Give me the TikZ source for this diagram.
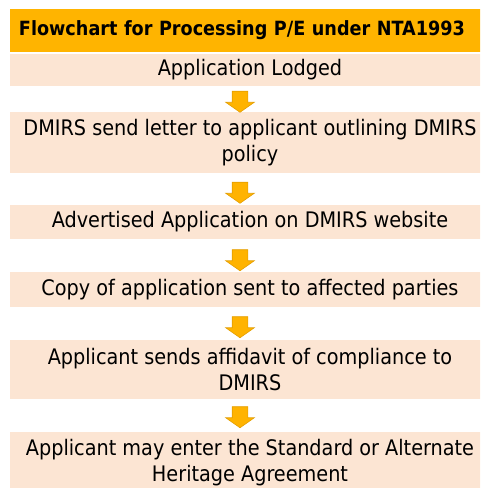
\documentclass[tikz,border=0pt]{standalone}
\usepackage{fontspec}
\setmainfont{DejaVu Sans Condensed}
\usetikzlibrary{shapes.arrows,calc}
\definecolor{headblock}{RGB}{255,180,0}
\definecolor{stepblock}{RGB}{252,229,211}
\definecolor{arrowfill}{RGB}{255,179,0}
\definecolor{arrowline}{RGB}{228,158,0}
\tikzset{
	headbox/.style={fill=headblock, minimum width=480pt, minimum height=43pt, inner xsep=9pt, inner ysep=0pt, text width=462pt, align=left, font=\bfseries\fontsize{19.6}{22}\selectfont},
	stepbox/.style={fill=stepblock, minimum width=480pt, inner sep=0pt, align=center, font=\fontsize{21.4}{26.5}\selectfont},
	downarrow/.style={single arrow, shape border rotate=270, fill=arrowfill, draw=arrowline, line width=0.6pt, inner sep=7.5pt, single arrow head extend=6.5pt, single arrow tip angle=110, minimum height=21pt}
}

\begin{document}
\begin{tikzpicture}[x=1pt, y=-1pt]
			\useasboundingbox (0,0) rectangle (480,488);
			\clip (0,0) rectangle (480,488);
			
			\node[headbox] (title) at (250, 30.5) {Flowchart for Processing P/E under NTA1993};
			
			\node[stepbox, minimum height=32pt] (b1) at (250, 70) {Application Lodged};
			\node[stepbox, minimum height=61pt] (b2) at (250, 142.5) {DMIRS send letter to applicant outlining DMIRS\\policy};
			\node[stepbox, minimum height=34pt] (b3) at (250, 222) {Advertised Application on DMIRS website};
			\node[stepbox, minimum height=35pt] (b4) at (250, 289.5) {Copy of application sent to affected parties};
			\node[stepbox, minimum height=59pt] (b5) at (250, 369.5) {Applicant sends affidavit of compliance to\\DMIRS};
			\node[stepbox, minimum height=61pt] (b6) at (250, 462.5) {Applicant may enter the Standard or Alternate\\Heritage Agreement};
			
			\node[downarrow] (a1) at ($(b1.south)!0.5!(b2.north)+(-10,0)$) {};
			\node[downarrow] (a2) at ($(b2.south)!0.5!(b3.north)+(-10,1)$) {};
			\node[downarrow] (a3) at ($(b3.south)!0.5!(b4.north)+(-10,2)$) {};
			\node[downarrow] (a4) at ($(b4.south)!0.5!(b5.north)+(-10,1)$) {};
			\node[downarrow] (a5) at ($(b5.south)!0.5!(b6.north)+(-10,-1)$) {};
		\end{tikzpicture}
\end{document}
